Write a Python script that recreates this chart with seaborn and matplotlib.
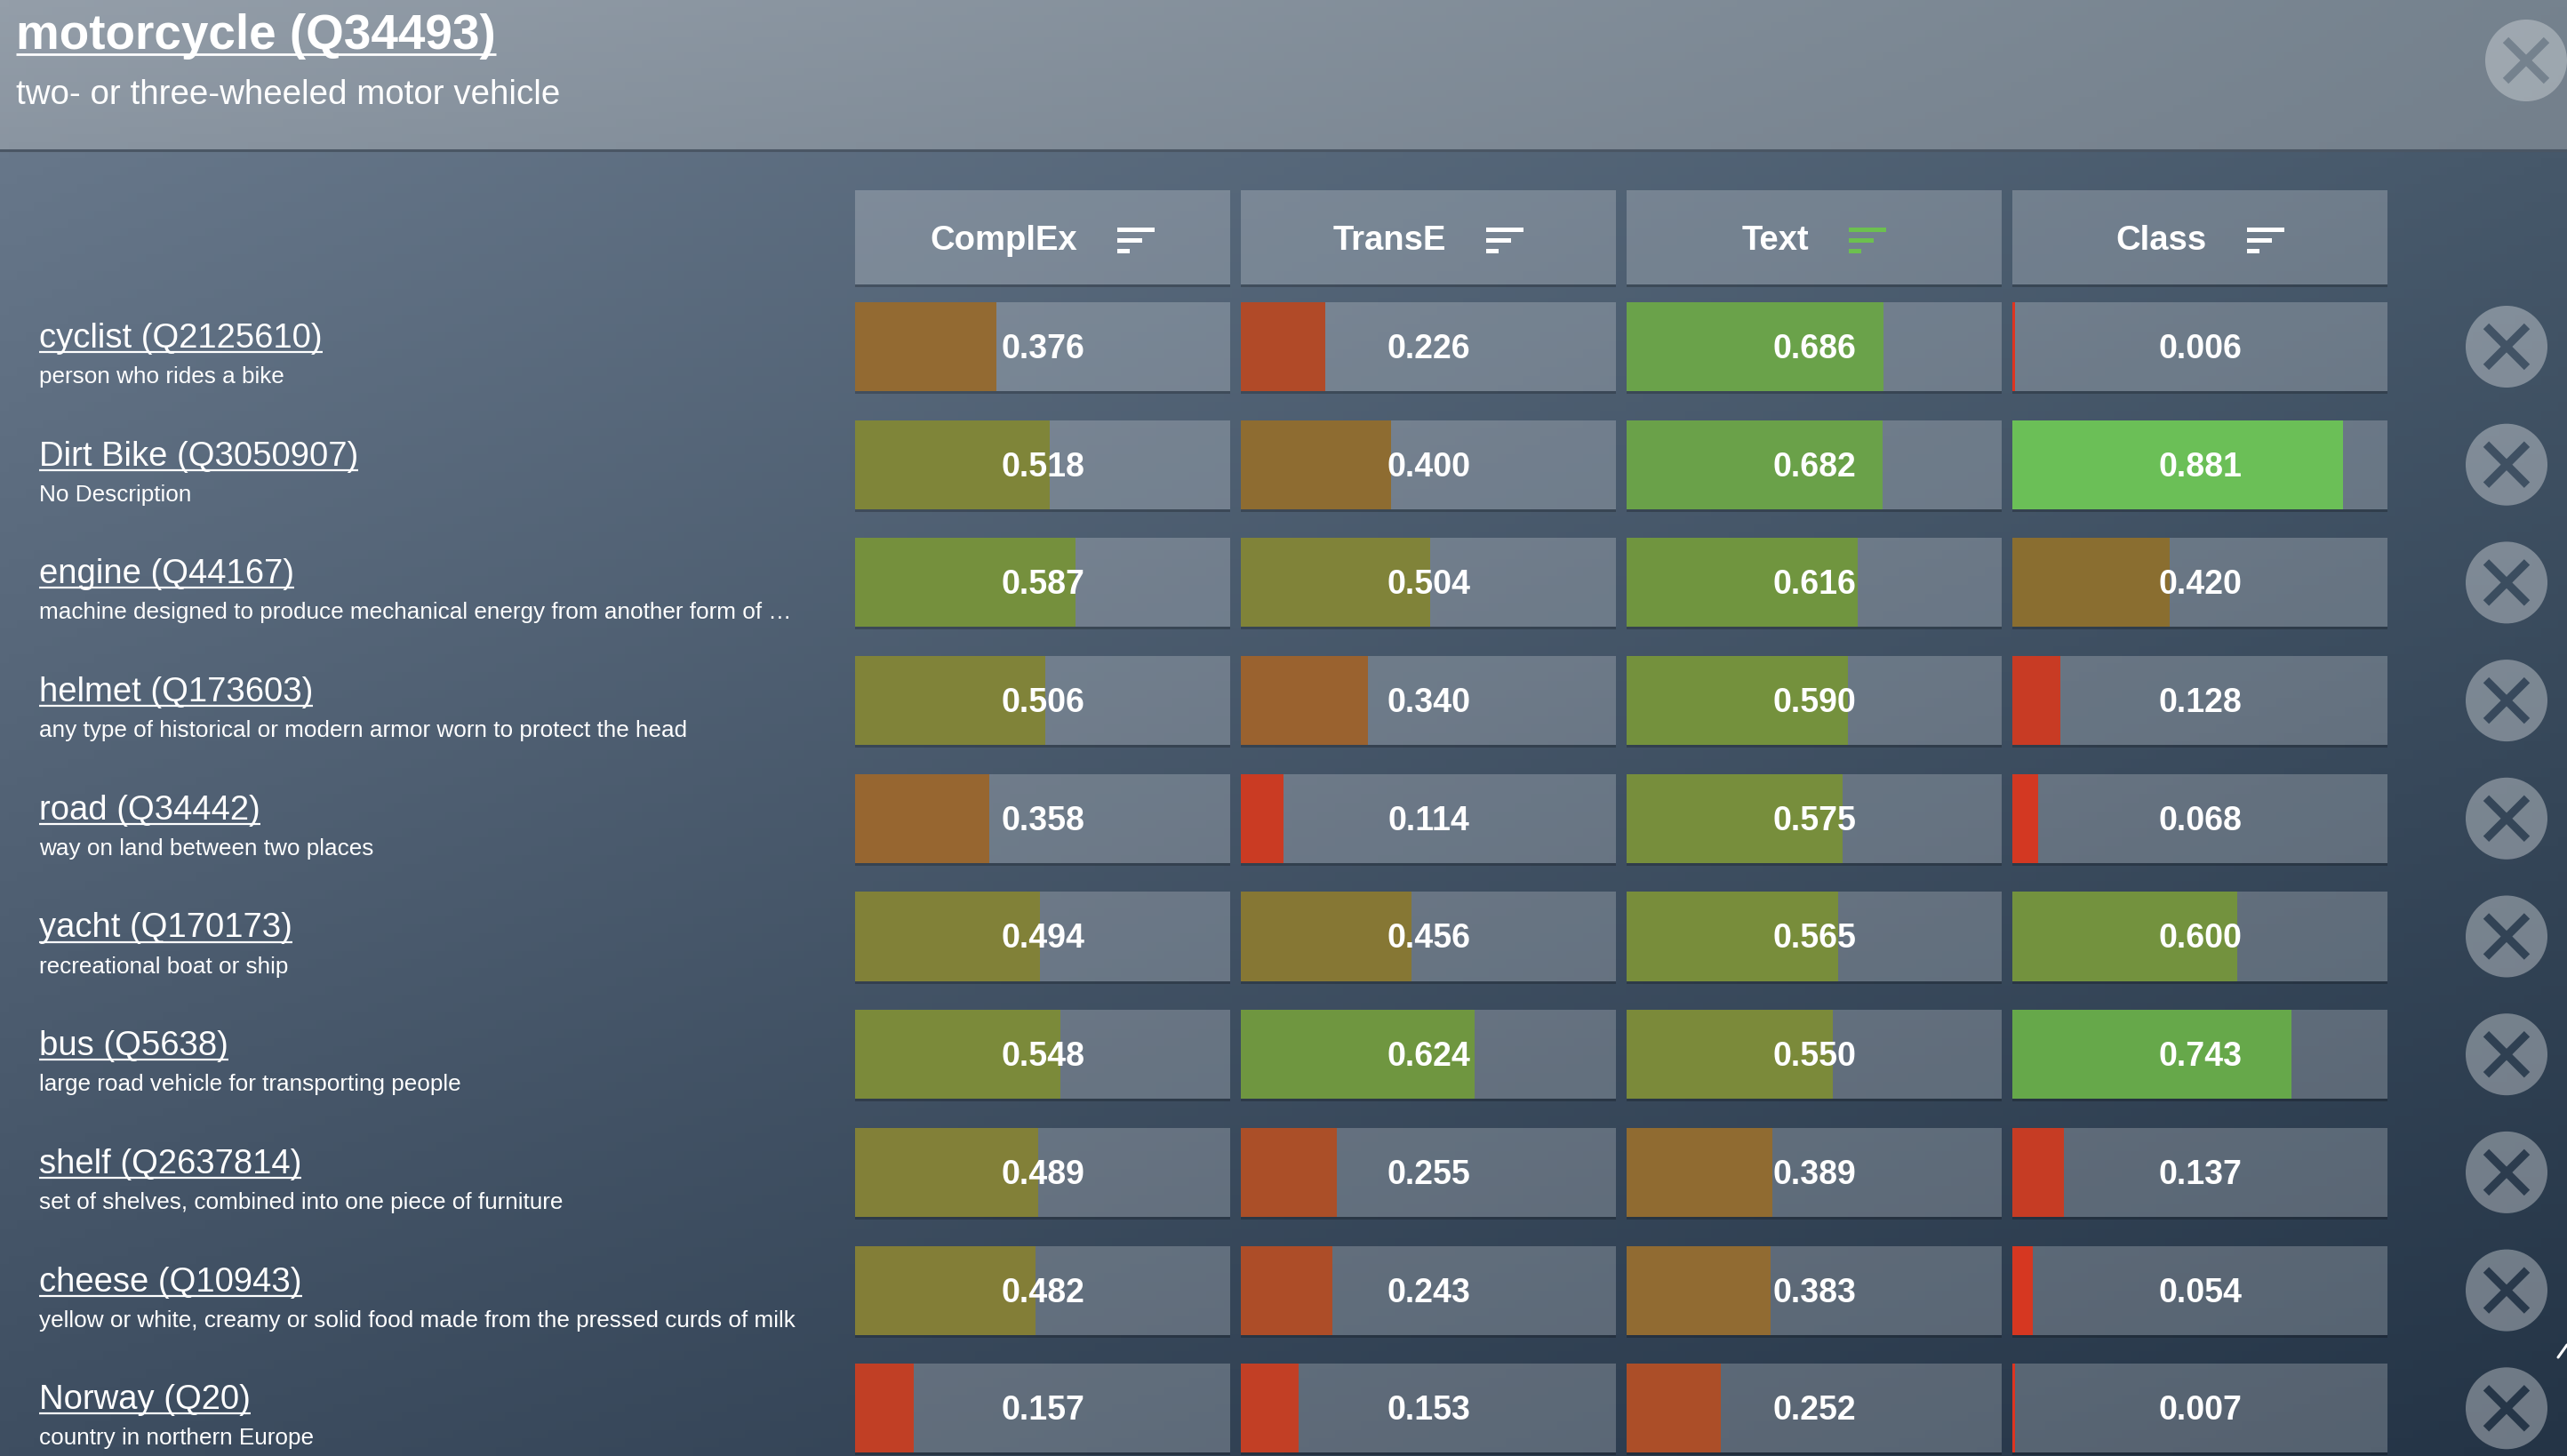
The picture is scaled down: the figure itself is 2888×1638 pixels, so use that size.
import numpy as np
import pandas as pd
import matplotlib
matplotlib.use('Agg')
import matplotlib.pyplot as plt
import seaborn as sns
from matplotlib.colors import LinearSegmentedColormap, to_hex
from matplotlib.patches import Rectangle, Circle

# ---- data ----
query_label = 'motorcycle (Q34493)'
query_desc = 'two- or three-wheeled motor vehicle'

names = ['cyclist (Q2125610)', 'Dirt Bike (Q3050907)', 'engine (Q44167)',
         'helmet (Q173603)', 'road (Q34442)', 'yacht (Q170173)',
         'bus (Q5638)', 'shelf (Q2637814)', 'cheese (Q10943)', 'Norway (Q20)']
descs = ['person who rides a bike',
         'No Description',
         'machine designed to produce mechanical energy from another form of \u2026',
         'any type of historical or modern armor worn to protect the head',
         'way on land between two places',
         'recreational boat or ship',
         'large road vehicle for transporting people',
         'set of shelves, combined into one piece of furniture',
         'yellow or white, creamy or solid food made from the pressed curds of milk',
         'country in northern Europe']

methods = ['ComplEx', 'TransE', 'Text', 'Class']
complex_scores = [0.376, 0.518, 0.587, 0.506, 0.358, 0.494, 0.548, 0.489, 0.482, 0.157]
transe_scores = [0.226, 0.400, 0.504, 0.340, 0.114, 0.456, 0.624, 0.255, 0.243, 0.153]
text_scores = [0.686, 0.682, 0.616, 0.590, 0.575, 0.565, 0.550, 0.389, 0.383, 0.252]
class_scores = [0.006, 0.881, 0.420, 0.128, 0.068, 0.600, 0.743, 0.137, 0.054, 0.007]
sorted_by = 'Text'

df = pd.DataFrame({'name': names, 'ComplEx': complex_scores, 'TransE': transe_scores,
                   'Text': text_scores, 'Class': class_scores})
df['full'] = 1.0

# score -> bar colour (red .. olive .. green)
score_cmap = LinearSegmentedColormap.from_list('score', [
    (0.0, '#df3420'), (0.137, '#c63c24'), (0.226, '#b04a28'), (0.255, '#ab4f28'),
    (0.376, '#936a32'), (0.42, '#8a6e30'), (0.489, '#828038'), (0.548, '#7b8a3a'),
    (0.624, '#6f9640'), (0.686, '#6aa24a'), (0.743, '#66a84a'), (0.881, '#6bbf57'),
    (1.0, '#6cc85c')])

sns.set_style('white')
plt.rcParams['font.family'] = ['Liberation Sans', 'DejaVu Sans']

W, H = 2888, 1638
HEAD_H = 168
fig = plt.figure(figsize=(W / 100, H / 100), dpi=100)

bg = fig.add_axes([0, 0, 1, 1])
bg.set_xlim(0, W)
bg.set_ylim(H, 0)
bg.axis('off')


def corners_grad(tl, tr, bl, br, w, h):
    u = np.linspace(0, 1, w)[None, :, None]
    v = np.linspace(0, 1, h)[:, None, None]
    tl, tr, bl, br = [np.array(c, float)[None, None, :] / 255 for c in (tl, tr, bl, br)]
    return (tl * (1 - u) * (1 - v) + tr * u * (1 - v) + bl * (1 - u) * v + br * u * v)


head_c = [(148, 158, 169), (117, 130, 142), (138, 149, 161), (116, 128, 140)]
body_c = [(103, 119, 138), (70, 88, 106), (62, 78, 97), (36, 52, 70)]
bg.imshow(corners_grad(*head_c, 300, 20), extent=(0, W, HEAD_H, 0), aspect='auto', zorder=0)
bg.imshow(corners_grad(*body_c, 300, 150), extent=(0, W, H, HEAD_H), aspect='auto', zorder=0)
bg.plot([0, W], [HEAD_H + 1, HEAD_H + 1], color='#4a5664', lw=2.2, zorder=1)


def bg_at(x, y, corners, y0, y1):
    u = x / W
    v = (y - y0) / (y1 - y0)
    tl, tr, bl, br = [np.array(c, float) / 255 for c in corners]
    return tl * (1 - u) * (1 - v) + tr * u * (1 - v) + bl * (1 - u) * v + br * u * v


renderer = fig.canvas.get_renderer()


def underline(t, offset, lw):
    bb = t.get_window_extent(renderer=renderer)
    inv = bg.transData.inverted()
    (x0, _), (x1, _) = inv.transform([(bb.x0, bb.y0), (bb.x1, bb.y0)])
    yb = t.get_position()[1] + offset
    bg.plot([x0, x1], [yb, yb], color='white', lw=lw, solid_capstyle='butt', zorder=3)


# query header
t = bg.text(18, 55, query_label, fontsize=39.5, fontweight='bold', color='white',
            va='baseline', ha='left', zorder=3)
underline(t, 6, 2.0)
bg.text(18, 117, query_desc, fontsize=27.7, color='white', va='baseline', ha='left', zorder=3)

# top-right close button
cx, cy = 2842, 68
bg.add_patch(Circle((cx, cy), 46, facecolor='white', alpha=0.3, lw=0, zorder=2))
xc = bg_at(cx, cy, head_c, 0, HEAD_H)
for s in (1, -1):
    bg.plot([cx - 23, cx + 23], [cy - 23 * s, cy + 23 * s], color=xc, lw=6.5,
            solid_capstyle='butt', zorder=3)

# layout of the table
COL_X0, COL_PITCH, COL_W = 962, 434, 422
ROW_C0, ROW_PITCH, CELL_H = 390, 132.7, 100
HDR_TOP, HDR_BOT = 214, 320
n = len(names)

ax_top = ROW_C0 - 0.5 * ROW_PITCH
ax_bot = ROW_C0 + (n - 0.5) * ROW_PITCH

for j, m in enumerate(methods):
    left = COL_X0 + j * COL_PITCH
    # column header cell
    bg.add_patch(Rectangle((left, HDR_BOT), COL_W, 3, facecolor='black', alpha=0.22, lw=0, zorder=1))
    bg.add_patch(Rectangle((left, HDR_TOP), COL_W, HDR_BOT - HDR_TOP, facecolor='white',
                           alpha=0.22, lw=0, zorder=1))
    hc = (HDR_TOP + HDR_BOT) / 2 + 4
    ht = bg.text(0, hc, m, fontsize=27.5, fontweight='bold', color='white',
                 va='center', ha='left', zorder=3)
    bb = ht.get_window_extent(renderer=renderer)
    tw = bb.width
    gx = left + COL_W / 2 - (tw + 45 + 42) / 2
    ht.set_x(gx)
    ix = gx + tw + 45
    icol = '#6cc04f' if m == sorted_by else 'white'
    for k, lw_ in enumerate([42, 28, 14]):
        bg.add_patch(Rectangle((ix, hc - 15 + 12 * k), lw_, 4.5, facecolor=icol, lw=0, zorder=3))

    # row shadows
    for i in range(n):
        cc = ROW_C0 + i * ROW_PITCH
        bg.add_patch(Rectangle((left, cc + CELL_H / 2), COL_W, 3, facecolor='black',
                               alpha=0.22, lw=0, zorder=1))

    ax = fig.add_axes([left / W, (H - ax_bot) / H, COL_W / W, (ax_bot - ax_top) / H])
    ax.set_facecolor('none')
    sns.barplot(data=df, x='full', y='name', color='white', alpha=0.22, width=CELL_H / ROW_PITCH,
                saturation=1, orient='h', linewidth=0, edgecolor='none', ax=ax, zorder=1)
    pal = [to_hex(score_cmap(v)) for v in df[m]]
    sns.barplot(data=df, x=m, y='name', hue='name', palette=pal, width=CELL_H / ROW_PITCH,
                saturation=1, orient='h', legend=False, linewidth=0, edgecolor='none',
                ax=ax, zorder=2)
    for i, v in enumerate(df[m]):
        ax.text(0.5, i + 3 / ROW_PITCH, f'{v:.3f}', ha='center', va='center', color='white',
                fontsize=27, fontweight='bold', zorder=5)
    ax.set_xlim(0, 1)
    ax.set_ylim(n - 0.5, -0.5)
    ax.set_xlabel('')
    ax.set_ylabel('')
    ax.set_xticks([])
    ax.set_yticks([])
    sns.despine(ax=ax, left=True, bottom=True)

# row labels and remove buttons
for i, (nm, ds) in enumerate(zip(names, descs)):
    cc = ROW_C0 + i * ROW_PITCH
    t = bg.text(44, cc + 1, nm, fontsize=27.5, color='white', va='baseline', ha='left', zorder=3)
    underline(t, 5, 1.6)
    bg.text(44, cc + 41, ds, fontsize=18.8, color='white', va='baseline', ha='left', zorder=3)

    bx = 2820
    bg.add_patch(Circle((bx, cc), 46, facecolor='white', alpha=0.34, lw=0, zorder=2))
    xc = bg_at(bx, cc, body_c, HEAD_H, H)
    for s in (1, -1):
        bg.plot([bx - 23, bx + 23], [cc - 23 * s, cc + 23 * s], color=xc, lw=6.5,
                solid_capstyle='butt', zorder=3)

# small cursor stroke at the right edge
bg.plot([2878, 2888], [1527, 1513], color='white', lw=2.2, zorder=3)

fig.savefig('out.png', dpi=100)
